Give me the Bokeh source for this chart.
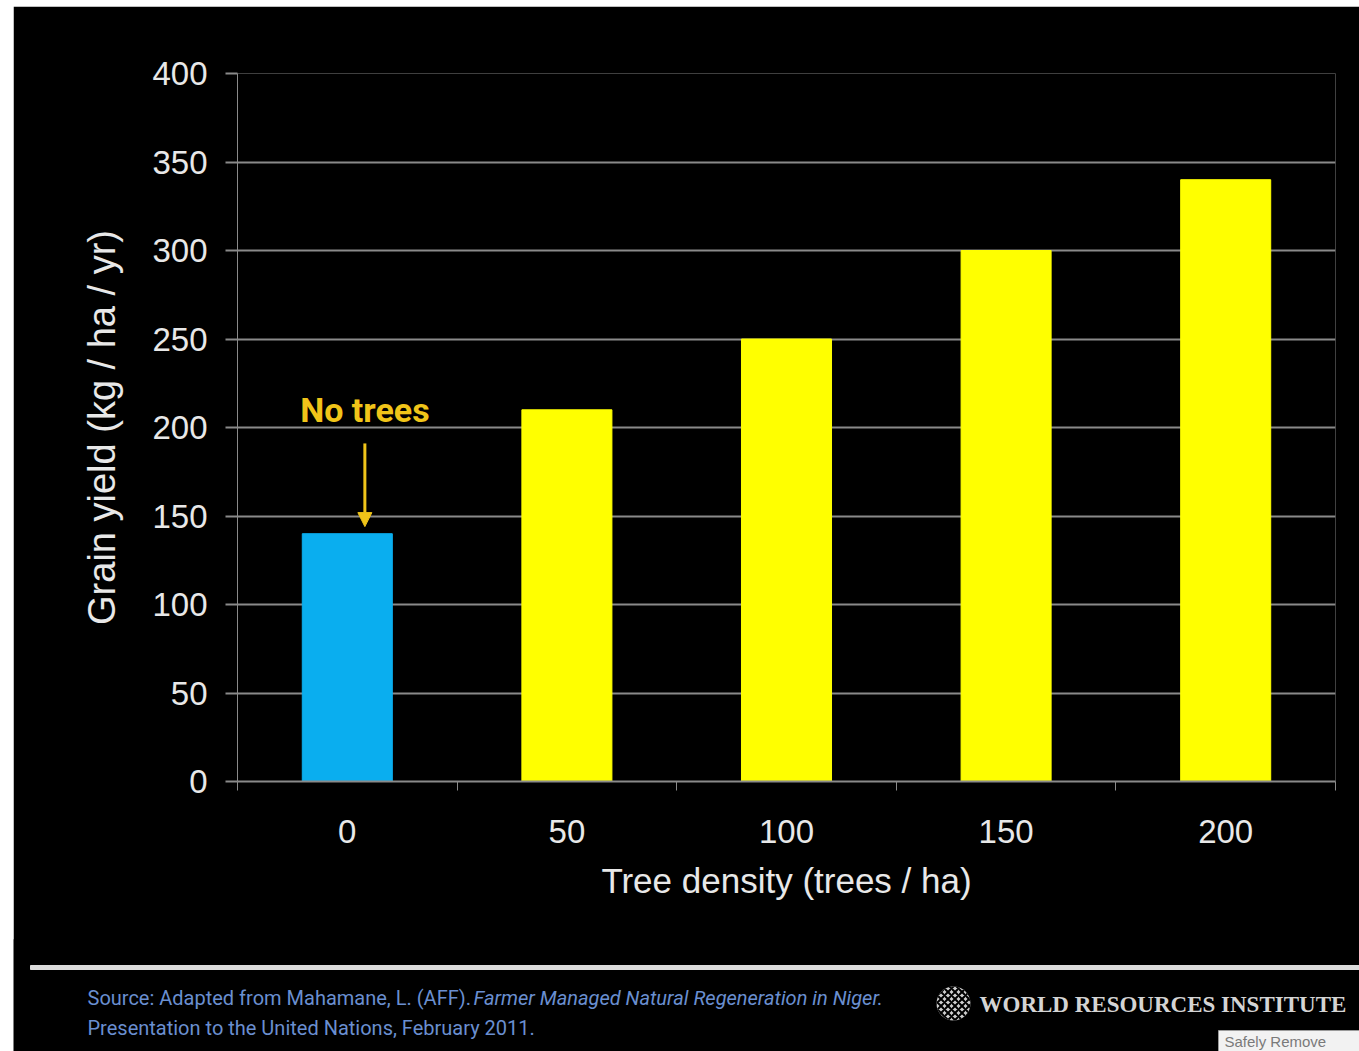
from bokeh.plotting import figure
from bokeh.models import (Range1d, FixedTicker, Label, Arrow, NormalHead,
                          ColumnDataSource)
from bokeh.core.properties import value
from bokeh.embed import file_html
from bokeh.resources import INLINE

# ---- data ----
tree_density = [0, 50, 100, 150, 200]
grain_yield = [140, 210, 250, 300, 340]
bar_colors = ["#0AAEEF", "#FFFF00", "#FFFF00", "#FFFF00", "#FFFF00"]
y_ticks = [0, 50, 100, 150, 200, 250, 300, 350, 400]
x_label = "Tree density (trees / ha)"
y_label = "Grain yield (kg / ha / yr)"
note_text = "No trees"
note_value = 210
arrow_from, arrow_to = 191, 144
source_line1 = "Source:  Adapted from Mahamane, L. (AFF). "
source_title = "Farmer Managed Natural Regeneration in Niger."
source_line2 = "Presentation to the United Nations, February 2011."
org_name = "WORLD RESOURCES INSTITUTE"
popup_text = "Safely Remove"

GRID = "#8a8a8a"
TXT = "#e8e8e8"
GOLD = "#F0C419"
SRC_BLUE = "#6A8FD0"
FONT = "Liberation Sans"
W = 1346


def blank(height, y_range, margin):
    f = figure(width=W, height=height, output_backend="svg", toolbar_location=None,
               x_range=Range1d(0, W), y_range=y_range, margin=margin,
               x_axis_type=None, y_axis_type=None,
               min_border=0, min_border_left=0, min_border_right=0,
               min_border_top=0, min_border_bottom=0)
    f.background_fill_color = "black"
    f.border_fill_color = "black"
    f.outline_line_color = None
    return f


# ---- top slide edge (page y 4..6) ----
head = blank(3, Range1d(3, 0), (4, 0, 0, 13))
head.quad(left=[0], right=[W], top=[0], bottom=[3], color="#8a8a8a")

# ---- main chart (page y 6..939) ----
src = ColumnDataSource(dict(x=tree_density, top=grain_yield, color=bar_colors))

p = figure(width=W, height=934, margin=(-1, 0, 0, 13),
           output_backend="svg", toolbar_location=None,
           x_range=Range1d(-25, 225), y_range=Range1d(0, 400),
           min_border_left=224, min_border_right=24,
           min_border_top=67, min_border_bottom=159)
p.background_fill_color = "black"
p.border_fill_color = "black"
p.outline_line_color = None

p.vbar(x="x", top="top", bottom=0, width=20.5, color="color", source=src)

p.xaxis.ticker = FixedTicker(ticks=tree_density,
                             minor_ticks=[-25, 25, 75, 125, 175, 225])
p.xaxis.major_tick_out = 0
p.xaxis.major_tick_in = 0
p.xaxis.minor_tick_out = 9
p.xaxis.minor_tick_in = 0
p.xaxis.minor_tick_line_color = GRID
p.xaxis.axis_line_color = GRID
p.xaxis.axis_line_width = 2
p.xaxis.major_label_standoff = 29
p.xaxis.axis_label = x_label
p.xaxis.axis_label_standoff = 15

p.yaxis.ticker = FixedTicker(ticks=y_ticks)
p.yaxis.major_tick_out = 12
p.yaxis.major_tick_in = 0
p.yaxis.major_tick_line_color = GRID
p.yaxis.major_tick_line_width = 2
p.yaxis.minor_tick_line_color = None
p.yaxis.axis_line_color = GRID
p.yaxis.axis_line_width = 1
p.yaxis.major_label_standoff = 18
p.yaxis.axis_label = y_label
p.yaxis.axis_label_standoff = 26

for ax in (p.xaxis, p.yaxis):
    ax.major_label_text_font = FONT
    ax.major_label_text_font_size = "33px"
    ax.major_label_text_color = TXT
    ax.axis_label_text_font = FONT
    ax.axis_label_text_font_style = "normal"
    ax.axis_label_text_color = TXT
p.xaxis.axis_label_text_font_size = "35px"
p.yaxis.axis_label_text_font_size = "38px"

p.xgrid.grid_line_color = None
p.ygrid.ticker = FixedTicker(ticks=y_ticks)
p.ygrid.grid_line_color = GRID
p.ygrid.grid_line_width = 2

p.add_layout(Label(x=tree_density[0] + 4, y=note_value, text=note_text,
                   text_align="center", text_baseline="middle",
                   text_font="Roboto", text_font_style="bold",
                   text_font_size="34px", text_color=GOLD))
p.add_layout(Arrow(x_start=tree_density[0] + 4, y_start=arrow_from,
                   x_end=tree_density[0] + 4, y_end=arrow_to,
                   line_color=GOLD, line_width=3,
                   end=NormalHead(size=14, fill_color=GOLD, line_color=GOLD)))

# ---- footer (page y 939..1050), pixel coordinates with y downward ----
foot = blank(112, Range1d(112, 0), (-1, 0, 0, 13))
foot.quad(left=[17], right=[W], top=[26], bottom=[30], color="#dcdcdc")
foot.text(x=[74, 74], y=[58, 88], text=[source_line1, source_line2],
          text_font=value("Roboto"), text_font_size="20px",
          text_color=SRC_BLUE, text_baseline="middle")
foot.text(x=[460], y=[58], text=[source_title],
          text_font=value("Roboto"), text_font_size="20px",
          text_font_style="italic", text_color=SRC_BLUE, text_baseline="middle")
foot.scatter(x=[940], y=[64], marker="circle", size=34,
             fill_color="#cfcfcf", line_color=None,
             hatch_pattern="x", hatch_color="black", hatch_scale=7, hatch_weight=2)
foot.text(x=[966], y=[65], text=[org_name], text_font=value("Liberation Serif"),
          text_font_style="bold", text_font_size="23px", text_color="#d4d4d4",
          text_baseline="middle")
foot.quad(left=[1205], right=[W], top=[91], bottom=[112],
          fill_color="#f2f2f2", line_color="#9a9a9a")
foot.text(x=[1211], y=[102], text=[popup_text], text_font=value(FONT),
          text_font_size="15px", text_color="#7a7a7a", text_baseline="middle")

open("out.html", "w").write(file_html([head, p, foot], INLINE))
